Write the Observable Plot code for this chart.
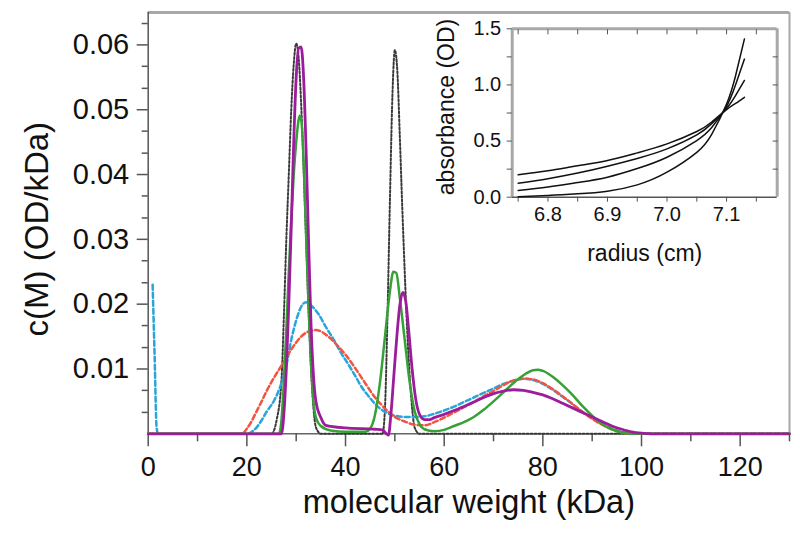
<!DOCTYPE html>
<html>
<head>
<meta charset="utf-8">
<script src="https://cdn.jsdelivr.net/npm/d3@7"></script>
<script src="https://cdn.jsdelivr.net/npm/@observablehq/plot@0.6"></script>
<style>
  html, body { margin: 0; padding: 0; background: #fff; }
  #wrap { position: relative; width: 800px; height: 536px; }
  #inset { position: absolute; left: 420px; top: 0px; }
</style>
</head>
<body>
<div id="wrap"><div id="main"></div><div id="inset"></div></div>
<script>
// ---------- main chart data: [molecular weight (kDa), c(M) (OD/kDa)] ----------
const dotted = [[0,0],[25,0],[26,0.002],[27,0.008],[27.5,0.018],[28,0.03],[28.5,0.04],[29,0.05],[29.5,0.057],[30,0.0602],[30.5,0.058],[31,0.051],[31.5,0.041],[32,0.03],[32.5,0.019],[33,0.01],[33.5,0.004],[34,0.001],[35,0],[47.5,0],[48,0.004],[48.5,0.018],[49,0.036],[49.5,0.052],[50,0.0592],[50.5,0.056],[51,0.046],[51.5,0.035],[52,0.025],[52.5,0.016],[53,0.009],[53.5,0.004],[54,0.001],[55,0],[130,0]];
const cyan = [[0.9,0.023],[1.3,0.012],[1.7,0.001],[2,0],[20,0],[21,0.0003],[22,0.001],[23,0.0021],[24,0.0034],[25.5,0.0051],[27,0.0078],[28,0.0105],[29,0.0145],[30,0.0175],[31,0.0196],[32,0.0203],[33,0.0198],[34.5,0.0185],[36,0.0165],[37.7,0.0144],[39,0.0126],[40.5,0.0108],[42,0.0089],[43.2,0.0073],[45,0.0055],[46,0.0046],[48,0.0034],[50,0.0028],[52,0.0026],[54,0.0026],[56,0.0027],[58,0.0031],[60,0.0036],[62,0.0042],[64,0.0049],[66,0.0056],[68,0.0063],[70,0.007],[72,0.0077],[74,0.0082],[76,0.0085],[78,0.0083],[80,0.0077],[82,0.0068],[84,0.0057],[86,0.0046],[88,0.0034],[90,0.0024],[92,0.0015],[94,0.0008],[96,0.0003],[98,0.0001],[100,0],[130,0]];
const red = [[0,0],[19,0],[20,0.0008],[21,0.002],[22,0.0035],[23,0.005],[24,0.0066],[25,0.008],[26,0.0093],[27,0.0105],[28,0.0118],[29,0.013],[30,0.0141],[31,0.015],[32,0.0156],[33,0.0159],[34,0.016],[35,0.0158],[36,0.0153],[37,0.0147],[38,0.0139],[40,0.0122],[42,0.0101],[44,0.0078],[46,0.0056],[48,0.0039],[50,0.0026],[52,0.0019],[54,0.0014],[56,0.0013],[58,0.0018],[60,0.0025],[62,0.0033],[64,0.0041],[66,0.0049],[68,0.0058],[70,0.0066],[72,0.0075],[74,0.0082],[76,0.0085],[78,0.0084],[80,0.0078],[82,0.0069],[84,0.0058],[86,0.0046],[88,0.0034],[90,0.0023],[92,0.0014],[94,0.0007],[96,0.0002],[98,0],[130,0]];
const green = [[0,0],[26.5,0],[27,0.002],[27.5,0.008],[28,0.016],[28.5,0.025],[29,0.033],[29.5,0.04],[30,0.045],[30.5,0.0485],[30.8,0.0491],[31.2,0.047],[31.6,0.04],[32,0.031],[32.5,0.02],[33,0.011],[33.5,0.005],[34,0.0025],[35,0.0012],[37,0.0005],[40,0.0003],[44,0.0003],[45,0.0008],[46,0.003],[47,0.008],[48,0.015],[49,0.022],[49.7,0.025],[50.3,0.0248],[51,0.021],[52,0.0145],[53,0.008],[54,0.0035],[55,0.0015],[56,0.0007],[58,0.0004],[60,0.0006],[62,0.0012],[64,0.0018],[66,0.0026],[68,0.0037],[70,0.005],[72,0.0064],[74,0.0078],[76,0.009],[78,0.0098],[79,0.0099],[80,0.0097],[82,0.0088],[84,0.0075],[86,0.006],[88,0.0043],[90,0.0028],[92,0.0015],[94,0.0007],[96,0.0002],[98,0],[130,0]];
const purple = [[0,0],[27,0],[27.5,0.003],[28,0.01],[28.5,0.02],[29,0.032],[29.5,0.045],[30,0.055],[30.5,0.0595],[31,0.0597],[31.5,0.055],[32,0.044],[32.5,0.03],[33,0.017],[33.5,0.009],[34,0.005],[35,0.0025],[36,0.0013],[40,0.0009],[46,0.0007],[47.5,0.0006],[48.3,0],[48.7,-0.0002],[49.2,0.003],[49.8,0.009],[50.4,0.015],[51,0.0198],[51.6,0.0218],[52.2,0.0205],[52.8,0.016],[53.5,0.01],[54.2,0.0055],[55,0.003],[56,0.0022],[57,0.0022],[58,0.0025],[60,0.003],[62,0.0036],[64,0.0042],[66,0.0049],[68,0.0056],[70,0.0062],[72,0.0066],[74,0.0068],[76,0.0067],[78,0.0064],[80,0.006],[82,0.0054],[84,0.0047],[86,0.004],[88,0.0033],[90,0.0026],[92,0.0019],[94,0.0012],[96,0.0007],[98,0.0003],[100,0.0001],[102,0],[130,0]];

const xDomain = [0, 130];
const yDomain = [0, 0.065];
const xMajor = [0, 20, 40, 60, 80, 100, 120];
const xMinor = [10, 30, 50, 70, 90, 110, 130];
const yMajor = [0.01, 0.02, 0.03, 0.04, 0.05, 0.06];
const yMinor = [0.0033, 0.0067, 0.0133, 0.0167, 0.0233, 0.0267, 0.0333, 0.0367, 0.0433, 0.0467, 0.0533, 0.0567, 0.0633];
const xTitle = "molecular weight (kDa)";
const yTitle = "c(M) (OD/kDa)";

// ---------- inset data: radius (cm) vs absorbance (OD) ----------
const radius = [6.75, 6.8, 6.85, 6.9, 6.95, 7.0, 7.05, 7.075, 7.1, 7.115, 7.13];
const scanA = [0.199, 0.235, 0.28, 0.327, 0.395, 0.475, 0.585, 0.67, 0.78, 0.835, 0.89];
const scanB = [0.125, 0.165, 0.215, 0.276, 0.345, 0.43, 0.555, 0.655, 0.79, 0.905, 1.04];
const scanC = [0.06, 0.09, 0.13, 0.178, 0.255, 0.356, 0.505, 0.62, 0.81, 1.0, 1.23];
const scanD = [0.005, 0.015, 0.03, 0.054, 0.11, 0.223, 0.40, 0.56, 0.83, 1.08, 1.41];
const insXDomain = [6.74, 7.185];
const insYDomain = [0, 1.5];
const insXMajor = [6.8, 6.9, 7.0, 7.1];
const insXAll = [6.75, 6.8, 6.85, 6.9, 6.95, 7.0, 7.05, 7.1, 7.15];
const insXMinor = [6.75, 6.85, 6.95, 7.05, 7.15];
const insYMajor = [0, 0.5, 1.0, 1.5];
const insYMinor = [0.25, 0.75, 1.25];
const insYAll = [0.25, 0.5, 0.75, 1.0, 1.25];
const insXTitle = "radius (cm)";
const insYTitle = "absorbance (OD)";

const FONT = "'Liberation Sans', Arial, Helvetica, sans-serif";
const blank = () => "";

const series = [
  {data: dotted, stroke: "#3a3a3a", dash: "2,2", width: 2},
  {data: cyan, stroke: "#2aa4da", dash: "5,3", width: 2.5},
  {data: red, stroke: "#f2543f", dash: "5,3", width: 2.5},
  {data: green, stroke: "#36a136", dash: null, width: 2.5},
  {data: purple, stroke: "#9c1c9b", dash: null, width: 2.8}
];

const main = Plot.plot({
  width: 800, height: 536,
  marginTop: 12, marginRight: 11, marginBottom: 102.7, marginLeft: 147.7,
  style: {fontFamily: FONT, background: "transparent", color: "#111"},
  x: {domain: xDomain},
  y: {domain: yDomain},
  marks: [
    Plot.ruleY([yDomain[1]], {stroke: "#a8a8a8", strokeWidth: 3}),
    Plot.ruleX([xDomain[1]], {stroke: "#a8a8a8", strokeWidth: 2}),
    Plot.ruleX([xDomain[0]], {stroke: "#555", strokeWidth: 1.5}),
    Plot.ruleY([0], {stroke: "#666", strokeWidth: 1.5}),
    Plot.axisY(yMajor, {tickSize: 11, tickPadding: 8, tickFormat: d3.format(".2f"), fontSize: 29, stroke: "#555", strokeWidth: 1.5, label: null}),
    Plot.axisY(yMinor, {tickSize: 6, tickFormat: blank, stroke: "#555", strokeWidth: 1.5, label: null}),
    Plot.axisX(xMajor, {tickSize: 13, tickPadding: 10, fontSize: 27, stroke: "#555", strokeWidth: 1.5, label: null}),
    Plot.axisX(xMinor, {tickSize: 8, tickFormat: blank, stroke: "#555", strokeWidth: 1.5, label: null}),
    ...series.map(s => Plot.line(s.data, {
      x: d => d[0], y: d => d[1], stroke: s.stroke, strokeWidth: s.width,
      strokeDasharray: s.dash, curve: "monotone-x"
    })),
    Plot.text([xTitle], {frameAnchor: "bottom", dy: 79, fontSize: 32.5, fill: "#111"}),
    Plot.text([yTitle], {frameAnchor: "left", textAnchor: "middle", dx: -111, dy: 6, rotate: -90, fontSize: 33, fill: "#111"})
  ]
});
document.getElementById("main").appendChild(main);

const insData = [scanA, scanB, scanC, scanD].flatMap((s, k) => s.map((v, i) => ({id: k, r: radius[i], a: v})));

const inset = Plot.plot({
  width: 370, height: 280,
  marginTop: 28.3, marginRight: 13.3, marginBottom: 83.3, marginLeft: 91.7,
  style: {fontFamily: FONT, background: "transparent", color: "#111"},
  x: {domain: insXDomain},
  y: {domain: insYDomain},
  marks: [
    Plot.ruleY([insYDomain[1]], {stroke: "#a8a8a8", strokeWidth: 3}),
    Plot.ruleX([insXDomain[1]], {stroke: "#a8a8a8", strokeWidth: 3}),
    Plot.ruleX([insXDomain[0]], {stroke: "#a8a8a8", strokeWidth: 3}),
    Plot.ruleY([0], {stroke: "#555", strokeWidth: 1.5}),
    Plot.axisY(insYMajor, {tickSize: 5, tickPadding: 6, tickFormat: d3.format(".1f"), fontSize: 20, stroke: "#555", label: null}),
    Plot.axisY(insYMinor, {tickSize: 5, tickFormat: blank, stroke: "#555", label: null}),
    Plot.axisY(insYAll, {anchor: "right", tickSize: -5, tickFormat: blank, stroke: "#555", label: null}),
    Plot.axisX(insXAll, {anchor: "top", tickSize: -5, tickFormat: blank, stroke: "#555", label: null}),
    Plot.axisX(insXMajor, {tickSize: 5, tickPadding: 5, tickFormat: d3.format(".1f"), fontSize: 20, stroke: "#555", label: null}),
    Plot.axisX(insXMinor, {tickSize: 5, tickFormat: blank, stroke: "#555", label: null}),
    Plot.line(insData, {x: "r", y: "a", z: "id", stroke: "#111", strokeWidth: 1.5, curve: "natural"}),
    Plot.text([insXTitle], {frameAnchor: "bottom", dy: 64, fontSize: 23, fill: "#111"}),
    Plot.text([insYTitle], {frameAnchor: "left", textAnchor: "middle", dx: -66, dy: -6, rotate: -90, fontSize: 23, fill: "#111"})
  ]
});
document.getElementById("inset").appendChild(inset);
</script>
</body>
</html>
